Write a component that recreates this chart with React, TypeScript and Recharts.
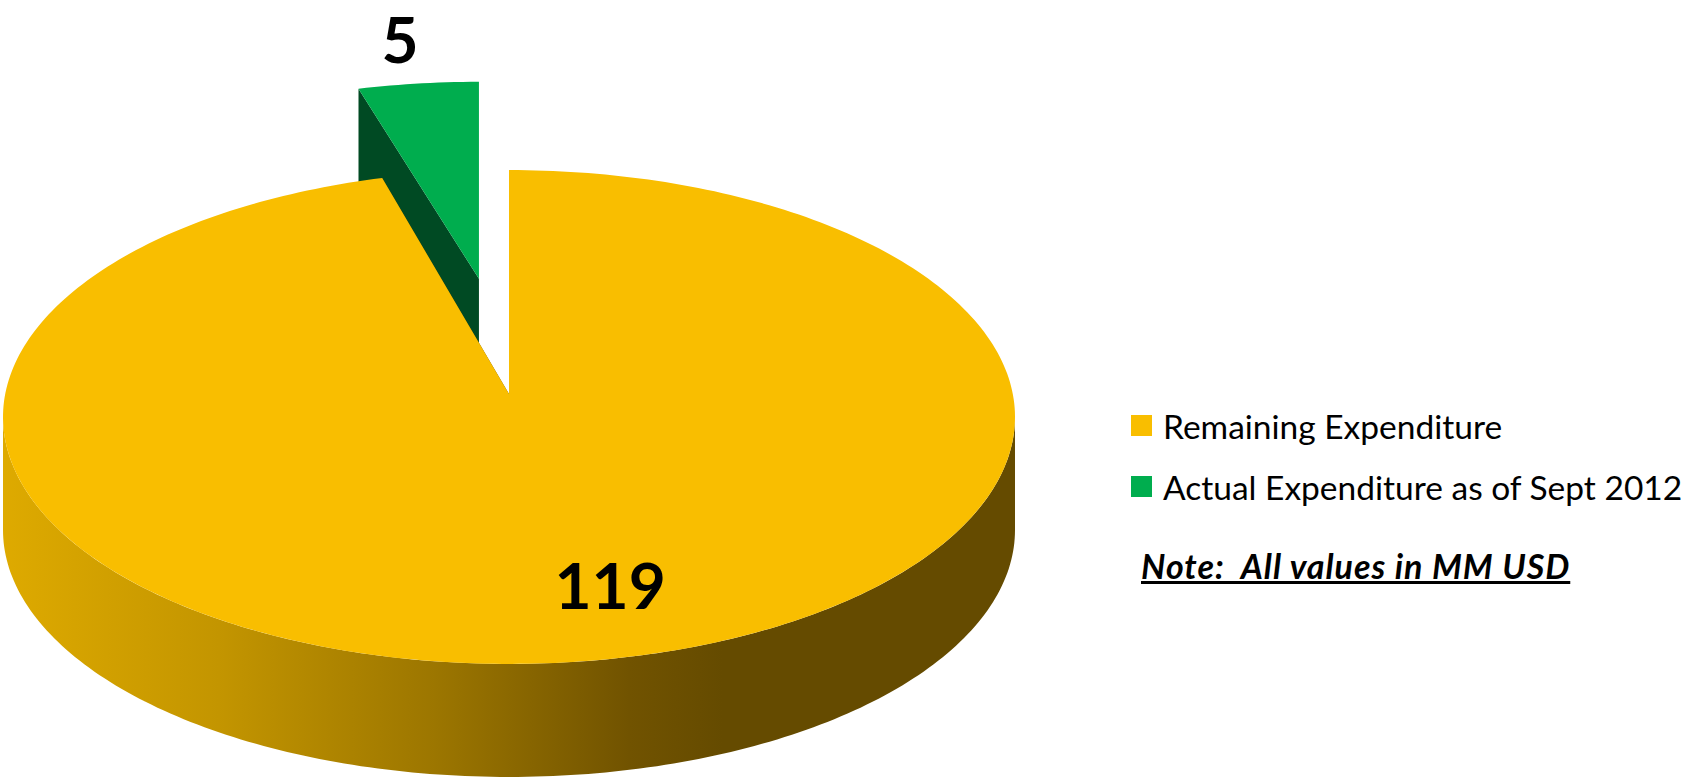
import { PieChart, Pie, Legend } from 'recharts';

// slices run counter-clockwise from 12 o'clock, so the small one comes first
const categories = ['Actual Expenditure as of Sept 2012', 'Remaining Expenditure'];
const values = [5, 119];
const topColors = ['#00AD4E', '#F9BE00'];
const sideColors = ['#004A23', '#654B00'];
const legendOrder = ['Remaining Expenditure', 'Actual Expenditure as of Sept 2012'];
const noteText = 'Note:  All values in MM USD';

const data = categories.map((name, i) => ({ name, value: values[i], fill: topColors[i] }));

const W = 1691;
const H = 779;
const CX = 509;
const CY = 394; // apex of the pie
const RX = 506;
const TILT = 0.488;
const CENTER_DROP = 23; // perspective: ellipse centre sits below the apex
const DEPTH = 113;
const FONT = 'Lato, "Noto Sans", sans-serif';

const EXPLODE: Record<string, { dist: number; sx: number; sy: number }> = {
  'Actual Expenditure as of Sept 2012': { dist: 0.47, sx: 0.95, sy: 0.88 },
};
const LABEL_SPOTS: Record<string, { r: number; dx: number }> = {
  'Actual Expenditure as of Sept 2012': { r: 1.202, dx: -6 },
  'Remaining Expenditure': { r: 0.69, dx: 57 },
};

type Geom = { ax: number; ay: number; rx: number; ry: number; drop: number; depth: number };

function geom(cx: number, cy: number, r: number, name: string, mid: number): Geom {
  const ex = EXPLODE[name];
  const rx = r;
  const ry = r * TILT;
  if (!ex) return { ax: cx, ay: cy, rx, ry, drop: CENTER_DROP, depth: DEPTH };
  const m = (mid * Math.PI) / 180;
  return {
    ax: cx + rx * ex.dist * Math.cos(m),
    ay: cy - ry * ex.dist * Math.sin(m),
    rx: rx * ex.sx,
    ry: ry * ex.sy,
    drop: CENTER_DROP * ex.sy,
    depth: DEPTH * ex.sy,
  };
}

function pt(g: Geom, deg: number, down = 0): [number, number] {
  const a = (deg * Math.PI) / 180;
  return [g.ax + g.rx * Math.cos(a), g.ay + g.drop - g.ry * Math.sin(a) + down];
}

function arc(g: Geom, a0: number, a1: number, down = 0) {
  const n = Math.max(2, Math.ceil(Math.abs(a1 - a0)));
  const out: [number, number][] = [];
  for (let k = 0; k <= n; k++) out.push(pt(g, a0 + ((a1 - a0) * k) / n, down));
  return out;
}

const toPath = (pts: [number, number][]) =>
  pts.map((p, i) => `${i ? 'L' : 'M'}${p[0].toFixed(2)},${p[1].toFixed(2)}`).join(' ') + ' Z';

const Slice3D = (props: any) => {
  const { cx, cy, outerRadius, startAngle, endAngle } = props;
  const name = props.payload?.name ?? props.name;
  const i = categories.indexOf(name);
  const a0 = Math.min(startAngle, endAngle);
  const a1 = Math.max(startAngle, endAngle);
  const g = geom(cx ?? CX, cy ?? CY, outerRadius ?? RX, name, (a0 + a1) / 2);
  const apex: [number, number] = [g.ax, g.ay];
  const apexDown: [number, number] = [g.ax, g.ay + g.depth];

  // radial faces (only really visible on the exploded slice)
  const faces = [a0, a1].map((a) => [apex, pt(g, a), pt(g, a, g.depth), apexDown] as [number, number][]);

  // front outer wall
  const walls: [number, number][][] = [];
  for (const [lo, hi] of [[180, 360], [540, 720], [-180, 0]]) {
    const s = Math.max(a0, lo);
    const e = Math.min(a1, hi);
    if (e > s) walls.push([...arc(g, s, e), ...arc(g, e, s, g.depth)]);
  }

  const top: [number, number][] = [apex, ...arc(g, a0, a1)];
  const gid = `wall-${i}`;

  return (
    <g>
      <defs>
        <linearGradient id={gid} gradientUnits="userSpaceOnUse" x1={g.ax - g.rx} y1={0} x2={g.ax - g.rx + 720} y2={0}>
          <stop offset="0" stopColor="#DEAA00" />
          <stop offset="0.3" stopColor="#C39500" />
          <stop offset="0.6" stopColor="#9C7600" />
          <stop offset="0.87" stopColor="#715300" />
          <stop offset="1" stopColor="#654B00" />
        </linearGradient>
      </defs>
      {faces.map((f, k) => (
        <path key={`f${k}`} d={toPath(f)} fill={sideColors[i]} />
      ))}
      {walls.map((w, k) => (
        <path key={`w${k}`} d={toPath(w)} fill={`url(#${gid})`} />
      ))}
      <path d={toPath(top)} fill={topColors[i]} />
    </g>
  );
};

const renderLabel = (p: any) => {
  const name = p.name ?? p.payload?.name;
  const spot = LABEL_SPOTS[name];
  const mid = p.midAngle ?? 0;
  const g = geom(p.cx ?? CX, p.cy ?? CY, p.outerRadius ?? RX, name, mid);
  const m = (mid * Math.PI) / 180;
  const x = g.ax + g.rx * spot.r * Math.cos(m) + spot.dx;
  const y = g.ay + g.drop - g.ry * spot.r * Math.sin(m);
  const size = 64;
  return (
    <text
      x={x}
      y={y + size * 0.36}
      textAnchor="middle"
      fontFamily={FONT}
      fontWeight={700}
      fontSize={size}
      fill="#000"
    >
      {p.value}
    </text>
  );
};

const renderLegend = (props: any) => {
  const payload = (props.payload || []) as any[];
  const items = legendOrder.map((name) => {
    const hit = payload.find((e) => e.value === name);
    return { name, color: topColors[categories.indexOf(name)] ?? hit?.color };
  });
  return (
    <div style={{ fontFamily: FONT, color: '#000', whiteSpace: 'nowrap' }}>
      {items.map((it) => (
        <div key={it.name} style={{ display: 'flex', alignItems: 'center', height: 40, marginBottom: 21 }}>
          <span style={{ display: 'inline-block', width: 21, height: 21, background: it.color, marginRight: 11 }} />
          <span style={{ fontSize: 33.5, lineHeight: '40px' }}>{it.name}</span>
        </div>
      ))}
      <div
        style={{
          marginTop: 39,
          marginLeft: 10,
          fontSize: 34,
          lineHeight: '40px',
          letterSpacing: 1,
          fontWeight: 700,
          fontStyle: 'italic',
          textDecoration: 'underline',
          whiteSpace: 'pre',
        }}
      >
        {noteText}
      </div>
    </div>
  );
};

export default function App() {
  return (
    <div style={{ position: 'absolute', left: 0, top: 0, width: W, height: H, background: '#fff' }}>
      <PieChart width={W} height={H} margin={{ top: 0, right: 0, bottom: 0, left: 0 }}>
        <Pie
          data={data}
          dataKey="value"
          nameKey="name"
          cx={CX}
          cy={CY}
          outerRadius={RX}
          startAngle={90}
          endAngle={450}
          shape={Slice3D}
          label={renderLabel}
          labelLine={false}
          isAnimationActive={false}
        />
        <Legend
          layout="vertical"
          content={renderLegend}
          wrapperStyle={{ position: 'absolute', left: 1131, top: 405.5, width: 560 }}
        />
      </PieChart>
    </div>
  );
}
